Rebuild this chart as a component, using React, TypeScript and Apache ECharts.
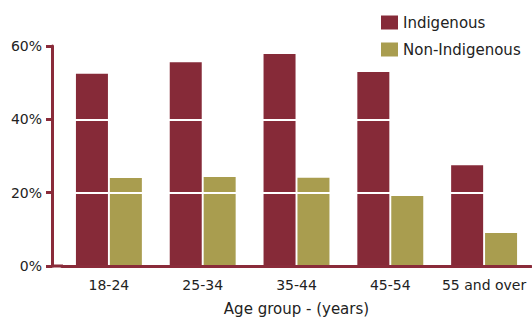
import React, { useEffect, useRef } from "react";
import * as echarts from "echarts";

const categories = ["18-24", "25-34", "35-44", "45-54", "55 and over"];
const indigenous = [52.4, 55.6, 57.8, 52.9, 27.5];
const nonIndigenous = [24.0, 24.3, 24.1, 19.1, 9.0];
const seriesNames = ["Indigenous", "Non-Indigenous"];
const xAxisTitle = "Age group - (years)";

const AXIS = "#8a2b3a";
const FONT = "DejaVu Sans";

export default function App() {
  const ref = useRef<HTMLDivElement>(null);
  useEffect(() => {
    if (!ref.current) return;
    const chart = echarts.init(ref.current, null, { renderer: "svg" });
    chart.setOption({
      animation: false,
      backgroundColor: "#ffffff",
      legend: {
        orient: "vertical",
        left: 376,
        top: 10,
        z: 20,
        itemWidth: 17,
        itemHeight: 14,
        itemGap: 12,
        icon: "rect",
        textStyle: { fontFamily: FONT, fontSize: 15, color: "#222" },
        data: seriesNames,
      },
      grid: { left: 62, right: 1, top: 46, bottom: 51, outerBoundsMode: "none", containLabel: false },
      xAxis: {
        type: "category",
        data: categories,
        z: 6,
        axisLine: { lineStyle: { color: AXIS, width: 3 } },
        axisTick: { alignWithLabel: true, length: 5, lineStyle: { color: AXIS, width: 3 } },
        axisLabel: { fontFamily: FONT, fontSize: 14, color: "#222", margin: 12, interval: 0, hideOverlap: false },
        name: xAxisTitle,
        nameLocation: "middle",
        nameGap: 35,
        nameTextStyle: { fontFamily: FONT, fontSize: 15, color: "#222" },
      },
      yAxis: {
        type: "value",
        min: 0,
        max: 60,
        interval: 20,
        offset: 10,
        z: 5,
        axisLine: { show: true, lineStyle: { color: AXIS, width: 3 } },
        axisTick: { show: true, length: 6, lineStyle: { color: AXIS, width: 3 } },
        axisLabel: { fontFamily: FONT, fontSize: 14, color: "#222", margin: 10, formatter: "{value}%" },
        splitLine: { show: true, lineStyle: { color: "#ffffff", width: 2 } },
      },
      graphic: [
        {
          type: "line",
          shape: { x1: 51, y1: 266, x2: 63, y2: 266 },
          style: { stroke: AXIS, lineWidth: 3 },
          z: 10,
        },
      ],
      series: [
        {
          name: seriesNames[0],
          type: "bar",
          data: indigenous,
          barWidth: 32,
          barGap: "6%",
          itemStyle: { color: "#862a38" },
        },
        {
          name: seriesNames[1],
          type: "bar",
          data: nonIndigenous,
          barWidth: 32,
          itemStyle: { color: "#a99d4f" },
        },
      ],
    });
    return () => chart.dispose();
  }, []);
  return <div ref={ref} style={{ width: 532, height: 317, position: "absolute", left: 0, top: 0 }} />;
}
